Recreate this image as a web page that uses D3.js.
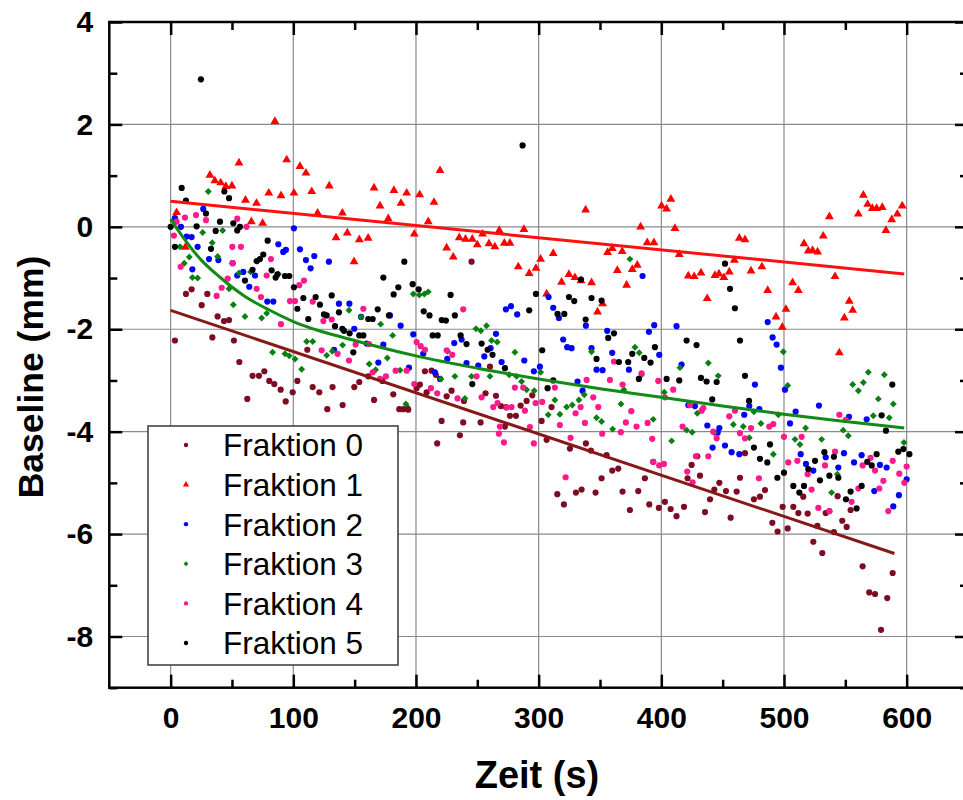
<!DOCTYPE html>
<html>
<head>
<meta charset="utf-8">
<script src="https://cdn.jsdelivr.net/npm/d3@7"></script>
<style>
  body { margin: 0; background: #fff; }
  text { font-family: "Liberation Sans", Arial, Helvetica, sans-serif; }
</style>
</head>
<body>
<svg id="chart" width="963" height="800"></svg>
<script>
// data: [time (s), baseline (mm)]
const frak0 = [[3.5,-2.22],[12.5,-1.31],[17.1,-1.22],[25.3,-1.53],[29.9,-1.31],[34,-2.16],[38.3,-1.75],[43.5,-1.84],[47.6,-1.82],[51.6,-2.22],[56,-2.64],[62.5,-3.36],[66.8,-2.91],[72,-2.91],[76.4,-2.82],[80.4,-3.01],[84.5,-3.07],[89.7,-3.18],[93.8,-3.41],[99.5,-3.23],[103.3,-3.01],[111.4,-2.4],[115.8,-3.13],[121.2,-3.23],[127.7,-3.56],[132,-3.13],[140.2,-3.48],[149.7,-3.13],[153.8,-3.03],[161.1,-2.92],[165.8,-3.38],[172.6,-3.01],[181.5,-3.27],[186.4,-3.56],[189.7,-3.56],[192.9,-3.54],[193.7,-3.57],[200.5,-3.15],[203.2,-3.08],[207.3,-2.82],[208.7,-3.23],[212.7,-2.81],[216.2,-2.89],[217.3,-4.23],[220.9,-3.79],[225,-3.31],[229,-3.2],[235.8,-4.07],[238.5,-3.82],[239.1,-3.4],[245.3,-0.68],[252.7,-3.82],[256.7,-3.25],[260.3,-2.73],[265.2,-3.3],[269.2,-3.5],[272.5,-3.9],[273.3,-3.52],[276.6,-3.69],[281.5,-3.69],[285.3,-3.49],[290.2,-3.4],[294.8,-3.29],[302.4,-3.79],[306.5,-4.16],[310.5,-3.52],[315.2,-5.22],[320.6,-5.42],[325.5,-4.33],[330.4,-5.19],[335,-5.13],[338.5,-4.23],[342.6,-4.37],[346.4,-5.19],[351.3,-4.91],[355.4,-4.46],[360,-4.76],[364.9,-4.72],[368.4,-5.17],[374.4,-5.53],[381.2,-5.16],[386.6,-4.91],[390.2,-5.42],[393.4,-4.59],[398,-5.49],[402.9,-5.37],[407.6,-5.51],[412.4,-5.65],[418.5,-5.47],[421.4,-4.91],[424.7,-4.65],[429.3,-4.48],[431.5,-4.86],[435.6,-5.57],[439.7,-5.32],[443.2,-5.13],[447.3,-5],[452.7,-5.16],[456.5,-5.68],[461.4,-5.17],[464.1,-4.9],[468.2,-4.42],[475.5,-5.32],[480.4,-5.27],[484.5,-5.14],[490.5,-5.78],[494.8,-5.95],[498.9,-5.47],[503,-5.89],[507.6,-5.47],[511.7,-5.59],[515.7,-5.27],[519.3,-5.6],[523.9,-6.15],[527.2,-5.84],[531.2,-6.37],[534,-5.59],[537,-5.55],[540.7,-5.96],[543.7,-5.26],[547.5,-5.74],[551.1,-5.86],[554.3,-5.53],[564.1,-6.63],[569.5,-7.14],[574.2,-7.17],[579.1,-7.87],[584.2,-7.25],[588.6,-6.76]]

const frak1 = [[4.9,0.28],[12,-0.4],[32,1.01],[36,0.9],[40.8,0.86],[45,0.79],[50,0.8],[55.7,1.25],[61,0.52],[65.8,0.1],[70,0.46],[75,0.07],[80,0.66],[85,2.06],[90,0.61],[94.6,1.31],[100.5,0.66],[105.4,1.18],[110.3,1.05],[115,0.69],[119.8,0.27],[129.3,0.8],[134.8,-0.21],[140,0.27],[144,-0.12],[149.5,-0.68],[153.8,-0.25],[161,-0.22],[165.8,0.76],[170.7,0.41],[177.4,0.16],[182,0.71],[187.8,0.46],[192.4,0.66],[198.6,-0.14],[203,0.63],[210,0.1],[214.7,0.48],[219.6,1.1],[225,-0.41],[230.4,-0.59],[235.3,-0.21],[240.4,-0.24],[245.9,-0.24],[250,-0.35],[254.3,-0.14],[259.5,-0.33],[264.3,-0.39],[267.9,-0.07],[272,-0.32],[276.6,-0.32],[283.4,-0.78],[288,-0.05],[292.3,-0.91],[297.8,-0.81],[301.6,-0.63],[306.5,-1.31],[311.9,-0.52],[318.7,-1.08],[324.7,-0.93],[329.6,-0.99],[334.5,-1.05],[338.3,0.33],[343.1,-1.09],[348,-1.66],[352.1,-1.5],[356.2,-0.5],[360,-0.42],[364.1,-0.85],[368.1,-0.48],[371.7,-1.14],[376.3,-0.83],[380.4,-0.75],[383.1,0],[388.5,-0.31],[394,-0.31],[400.2,0.41],[404.3,0.35],[407.8,0.54],[411.1,-0.03],[414.6,-0.54],[422,-0.96],[426.8,-0.97],[432.3,-0.9],[437.4,-1.4],[443.7,-0.95],[447,-0.92],[451,-0.99],[455.4,-0.88],[459.5,-0.65],[463.6,-0.22],[468.2,-0.25],[473.1,-0.86],[482,-0.78],[486.7,-1.24],[493.5,-1.76],[498.6,-1.96],[501.6,-1.61],[507,-1.09],[511.7,-1.24],[516.3,-0.33],[519.8,-0.47],[523.3,-0.46],[527.4,-0.49],[532,-0.18],[537,0.2],[541.6,-0.97],[545.1,-2.46],[549.2,-1.78],[553.2,-1.45],[556,-1.63],[560.6,0.25],[564.7,0.62],[568.2,0.44],[572,0.36],[575.5,0.36],[580.1,0.38],[583.1,-0.07],[587.8,0.14],[592.4,0.25],[596.4,0.41]]

const frak2 = [[3.5,0.17],[8.4,0],[13,-0.19],[17.1,-0.2],[17.7,-0.83],[22,-0.39],[26.6,0.35],[31.3,-0.63],[38.9,-0.65],[50.5,-0.71],[54.3,-0.95],[59.2,-0.88],[64.1,-1.17],[68.8,-0.95],[78.8,-1.46],[83.7,-1.46],[87.8,-0.34],[91.8,-0.49],[94,-0.45],[100.5,-0.03],[105.4,-0.44],[110.3,-0.65],[114.1,-0.81],[117.1,-0.57],[129,-0.68],[133.2,-2.4],[137.2,-1.5],[145.7,-1.5],[149.7,-1.99],[155.2,-1.76],[159.8,-2.28],[169.3,-2.65],[173.4,-2.3],[178.8,-1.73],[187.5,-1.93],[194.3,-2.75],[197.8,-2.1],[205.9,-2.48],[215.4,-2.84],[219.6,-2.97],[225.5,-2.58],[231.2,-2.27],[237.2,-2.2],[241.2,-2.66],[250.8,-2.71],[255.7,-2.53],[260.8,-2.37],[265.2,-2.09],[269.8,-2.64],[273.3,-1.61],[277.4,-1.55],[282.5,-1.71],[288.3,-2.61],[296.1,-2.82],[301,-2.73],[308.1,-1.37],[311.9,-1.58],[316.5,-1.78],[320,-2.2],[323.3,-2.35],[326.8,-2.37],[331.7,-3.02],[335.8,-3.2],[338.5,-1.93],[343.1,-2.37],[347.2,-2.79],[352.1,-2.8],[355.9,-2.03],[360,-2.46],[373.6,-2.79],[384.7,-0.96],[389.9,-2.05],[394.2,-1.92],[398.3,-2.5],[412.4,-1.94],[416.5,-2.69],[422,-3.48],[427.4,-3.5],[437.5,-3.88],[441.8,-4.31],[445.9,-4.02],[447.3,-3.93],[451.9,-4.27],[457.3,-4.4],[463.6,-4.44],[467.6,-3.67],[471.7,-3.5],[476.3,-3.08],[479.9,-3.56],[486.7,-1.86],[490.7,-2.16],[494,-2.3],[497.5,-2.75],[500.8,-3.18],[504.9,-3.84],[509.5,-3.61],[513.6,-4.44],[517.9,-4.63],[523.9,-4.76],[528.5,-3.49],[534,-4.5],[544.3,-4.7],[548.9,-4.42],[553,-3.71],[557.1,-4.6],[563.3,-4.46],[567.4,-3.76],[573.6,-5.16],[578.2,-4.65],[583.7,-4.7],[589.1,-5.46],[593.7,-5.24],[600,-4.93]]

const frak3 = [[7.6,-0.39],[11.1,-0.71],[15.2,-0.59],[17.7,-0.99],[22,-1],[26.1,-0.11],[30.7,0.69],[33.9,-0.31],[38.3,-0.58],[42.4,-0.07],[47.6,-1.21],[51.1,-1.52],[55.7,-0.9],[60.6,-1.75],[65.2,-0.88],[74.2,-1.78],[78.3,-1.69],[83.1,-2.45],[87.8,-0.92],[93.2,-2.48],[96.7,-2.52],[101.4,-2.58],[106.8,-2.78],[110.9,-2.24],[115.8,-2.24],[127.2,-2.51],[131.8,-2.43],[140.2,-2.31],[145.4,-1.63],[155.2,-1.76],[161.9,-2.68],[167.1,-2.79],[171.2,-1.9],[176.6,-2.56],[181,-2.12],[187,-2.8],[191.8,-3.46],[197.8,-1.31],[202.7,-1.33],[206.8,-1.31],[210,-1.27],[220.3,-2.97],[225.8,-2.43],[231.7,-2.92],[239.9,-3.35],[245.3,-2.92],[248.9,-1.99],[252.9,-2.03],[257.5,-1.93],[260.3,-2.92],[261.6,-2.22],[266.2,-2.25],[276,-2.89],[280.6,-2.45],[282,-2.92],[286.1,-3.02],[290.2,-3.18],[296.4,-3.2],[301.6,-2.84],[307.8,-3.67],[313.2,-3.38],[317.3,-3.66],[322.8,-3.52],[327.4,-3.48],[332.8,-3.38],[337.2,-3.28],[343.1,-2.44],[347.2,-3.73],[351.3,-3.8],[360.3,-3.95],[367.1,-3.46],[369.5,-3.18],[374.4,-0.63],[378.5,-2.35],[382,-2.46],[383.9,-2.89],[393.4,-3.76],[402.4,-3.23],[408.4,-4.18],[415.2,-2.75],[420.6,-3.97],[425.2,-4.01],[429.3,-3.64],[438.3,-2.66],[443.2,-4.02],[446.4,-2.91],[458.7,-3.86],[466.8,-3.9],[471.7,-4.12],[475.5,-3.61],[481.2,-3.84],[491.3,-4.44],[495.4,-3.67],[499.4,-2.44],[503,-3.1],[509,-4.15],[513,-4.25],[517.6,-3.93],[530.7,-4.15],[538.8,-5.19],[543.5,-4.83],[548.3,-3.97],[552.4,-4.08],[556,-3.08],[560.6,-3.2],[564.7,-3.04],[568.7,-2.84],[572.8,-3.69],[576.9,-3.36],[581.8,-2.89],[585.8,-3.73],[589.1,-3.46],[597.8,-4.21]]

const frak4 = [[2.7,-0.17],[4.9,0.1],[8.2,-0.78],[11.7,0.18],[20.7,0.23],[28.8,0.13],[37.5,-1.35],[41.6,-1.19],[46.5,-1.01],[50.3,-0.39],[50.5,-0.71],[54.3,0.16],[57.3,-0.39],[61.9,0],[70.1,-1.21],[73.6,-1.37],[78.3,-0.95],[81.8,-0.63],[89.9,-1.9],[97.3,-1.45],[101.4,-1.45],[104.9,-1.14],[108.7,-1.05],[115.8,-1.46],[123.1,-2.41],[124.5,-1.84],[131.3,-1.81],[136.1,-2.48],[145.4,-2.61],[150.8,-2.3],[157.1,-1.6],[161.7,-2.29],[164.7,-2.84],[170.7,-2.97],[175.5,-2.92],[183.4,-2.81],[192.4,-2.81],[198.6,-3.07],[200.5,-2.25],[203.8,-2.33],[207.3,-2.4],[212.2,-3.15],[217.3,-3.25],[225,-2.41],[229.6,-2.5],[233.9,-3.35],[238.5,-1.61],[249.4,-2.92],[253.5,-3.33],[263,-3.52],[266.5,-3.44],[267.6,-4.04],[268.4,-3.9],[271.7,-4.21],[273.9,-3.53],[277.9,-3.52],[280.6,-3.14],[287.4,-3.14],[288.8,-3.59],[292.9,-3.91],[296.1,-4.23],[297.5,-3.44],[302.9,-3.42],[313.2,-3.14],[317.3,-3.87],[322,-4.89],[326,-4.12],[330.1,-3.64],[334.2,-3.52],[337.7,-3.83],[339.1,-2.99],[344.5,-3.33],[348.6,-3.52],[351.8,-4.04],[358.1,-2.99],[361.4,-2.63],[367,-4.01],[368.4,-3.08],[371.1,-3.82],[375.5,-3.6],[379.8,-3.9],[383.9,-2.86],[388.8,-3.83],[392.6,-4.14],[393.4,-4.59],[397.5,-3.01],[398.3,-4.66],[402.1,-4.63],[402.9,-3.33],[409.7,-3.18],[417.3,-3.9],[421.1,-4.78],[423.3,-3.48],[425.5,-4.99],[428.2,-4.48],[432.9,-3.59],[434.2,-3.54],[438.3,-4.48],[442.3,-4],[445.1,-4.13],[455.4,-3.7],[460,-3.59],[464.1,-4.03],[468.2,-4.13],[473.1,-3.93],[479.6,-4.91],[488,-3.9],[491.3,-3.85],[500,-4.1],[503.5,-4.6],[510.9,-4.57],[514.4,-4.1],[519.3,-4.83],[522.5,-5.13],[528,-5.49],[533.4,-4.66],[537,-5.55],[541.6,-4.39],[545.1,-3.67],[550.3,-3.77],[555.1,-5.37],[560.6,-5.11],[564.1,-4.66],[570.6,-4.51],[574.2,-4.76],[577.7,-5.11],[581,-4.96],[585,-5.55],[588.6,-4.57],[594,-4.82],[598.1,-5],[600,-4.68]]

const frak5 = [[0,0],[3.5,-0.39],[9,0.76],[12.5,0.51],[21.2,0.01],[24.7,2.88],[28.8,0.26],[32.9,-0.43],[36.7,-0.08],[40.2,0.1],[43.8,0.69],[47.6,0.56],[51.1,0.07],[54.3,-0.07],[56.5,0],[60.6,-1.05],[66.8,-0.84],[70.1,-0.67],[72.8,-0.63],[75.5,-0.54],[79.1,-0.27],[82.3,-0.85],[85.6,-0.99],[87,-0.93],[93.2,-0.96],[96.7,-0.96],[100.5,-1.18],[103.3,-1.6],[108.2,-1.39],[112.2,-1.8],[118.2,-1.37],[121.7,-1.52],[125,-1.71],[127.2,-1.73],[131.3,-1.34],[134,-1.94],[137.2,-1.67],[140,-1.99],[141.3,-2.03],[145.9,-2.08],[148.9,-2.45],[153.8,-2.12],[157.1,-2.12],[161.1,-1.8],[164.7,-1.8],[168.8,-1.61],[173.4,-0.99],[178,-1.73],[181.8,-1.32],[185.6,-1.18],[190.5,-0.68],[197.3,-1.12],[202.2,-1.22],[206.3,-1.65],[211,-1.73],[213.6,-2.12],[217.7,-2.12],[221,-1.82],[224.4,-1.83],[228.2,-1.33],[231.7,-1.73],[236.4,-2.12],[241.2,-2.29],[245.9,-3.07],[253.5,-2.28],[258.4,-2.4],[262.4,-2.5],[272.5,-2.76],[286.9,1.59],[292.3,-1.63],[297.8,-1.31],[302.9,-2.41],[307.3,-3.15],[311.9,-3],[315.4,-1.7],[320.9,-1.7],[324.7,-1.37],[329,-1.45],[334.5,-1.03],[338.3,-1.81],[343.1,-1.39],[347.2,-2.58],[351.3,-1.44],[356.7,-2.17],[361.4,-2.08],[365.4,-2.64],[373,-2.64],[376.3,-2.48],[381.7,-2.97],[386.1,-2.56],[391.2,-2.65],[394.8,-2.35],[404.3,-2.97],[414.6,-3],[420.6,-2.22],[428.7,-2.31],[432.3,-2.95],[436.9,-3.02],[441.5,-3.37],[445.1,-3.03],[451.9,-0.72],[456,-1.21],[460,-1.59],[464.1,-2.22],[468.2,-2.91],[471.5,-3.4],[475.5,-4.31],[480.4,-4.53],[486.4,-4.6],[488.6,-4.25],[494.6,-4.9],[500,-4.8],[507.6,-5.06],[512.5,-5.19],[516.3,-5.06],[519.8,-4.73],[525.3,-4.57],[529.3,-4.95],[532.9,-4.4],[537,-4.86],[540.7,-4.49],[544.3,-4.9],[550.5,-5.32],[554.3,-5.17],[559.2,-5.5],[563.3,-5.06],[567.9,-4.59],[571.5,-4.66],[575.5,-4.44],[579.6,-3.68],[583.1,-3.98],[588.3,-3.08],[593.2,-4.39],[597.3,-4.34],[602.2,-4.44]]

// fit lines
const fit0 = [[0,-1.63],[590,-6.38]]
const fit1 = [[0,0.5],[598,-0.92]]
const fit3 = [[0,0.15],[10,-0.2],[25,-0.65],[40,-0.98],[60,-1.35],[80,-1.62],[100,-1.85],[150,-2.22],[200,-2.52],[250,-2.76],[300,-2.97],[350,-3.16],[400,-3.33],[450,-3.5],[500,-3.66],[550,-3.8],[598,-3.93]]

const seriesNames = ['Fraktion 0', 'Fraktion 1', 'Fraktion 2', 'Fraktion 3', 'Fraktion 4', 'Fraktion 5']
const seriesColors = ['#7d0c22', '#ff0000', '#0000ff', '#0a8010', '#ff1a8c', '#000000']
const seriesShapes = ['circle', 'triangle', 'circle', 'diamond', 'circle', 'circle']
const seriesData = [frak0, frak1, frak2, frak3, frak4, frak5]

const xMajor = [0, 100, 200, 300, 400, 500, 600]
const xMinor = [50, 150, 250, 350, 450, 550, 650]
const yMajor = [-8, -6, -4, -2, 0, 2, 4]
const yMinor = [-9, -7, -5, -3, -1, 1, 3]

const svg = d3.select('#chart')

const x = d3.scaleLinear().domain([-50, 650]).range([109.3, 968])
const y = d3.scaleLinear().domain([-9, 4]).range([687.7, 22])

// grid
const grid = svg.append('g')
grid.selectAll('.gx').data(xMajor).join('line')
    .attr('x1', d => x(d)).attr('x2', d => x(d))
    .attr('y1', y(4)).attr('y2', y(-9))
    .attr('stroke', '#8a8a8a').attr('stroke-width', 1.2)
grid.selectAll('.gy').data(yMajor.filter(d => d < 4)).join('line')
    .attr('x1', x(-50)).attr('x2', x(650))
    .attr('y1', d => y(d)).attr('y2', d => y(d))
    .attr('stroke', '#8a8a8a').attr('stroke-width', 1.2)

// markers
function marker(sel, shape, color, scale) {
    if (shape === 'circle') {
        sel.append('circle').attr('r', 3.1 * scale).attr('fill', color)
    } else if (shape === 'triangle') {
        sel.append('path').attr('d', d3.symbol().type(d3.symbolTriangle).size(34 * scale * scale)()).attr('fill', color)
    } else {
        sel.append('path').attr('d', d3.symbol().type(d3.symbolSquare).size(24 * scale * scale)())
            .attr('transform', 'rotate(45)').attr('fill', color)
    }
}

seriesData.forEach((data, i) => {
    const g = svg.append('g')
    g.selectAll('g').data(data).join('g')
        .attr('transform', d => `translate(${x(d[0])},${y(d[1])})`)
        .each(function() { marker(d3.select(this), seriesShapes[i], seriesColors[i], 1) })
})

// fitted lines
const line = d3.line().x(d => x(d[0])).y(d => y(d[1]))
svg.append('path').datum(fit1).attr('d', line).attr('fill', 'none').attr('stroke', '#ff1010').attr('stroke-width', 3)
svg.append('path').datum(fit0).attr('d', line).attr('fill', 'none').attr('stroke', '#861818').attr('stroke-width', 3)
svg.append('path').datum(fit3).attr('d', line.curve(d3.curveMonotoneX)).attr('fill', 'none').attr('stroke', '#118a16').attr('stroke-width', 3)

// axes, ticks pointing inward
const plain = d => String(d)
const tickStyle = g => {
    g.select('.domain').remove()
    g.selectAll('line').attr('stroke', '#000').attr('stroke-width', 2.5)
    g.selectAll('text').attr('font-size', 30).attr('font-weight', 'bold').attr('fill', '#000')
        .style('font-family', '"Liberation Sans", Arial, sans-serif')
}

svg.append('g').attr('transform', `translate(0,${y(-9)})`)
    .call(d3.axisBottom(x).tickValues(xMajor).tickSize(-13).tickPadding(19).tickFormat(plain))
    .call(tickStyle)
svg.append('g').attr('transform', `translate(0,${y(-9)})`)
    .call(d3.axisBottom(x).tickValues(xMinor).tickSize(-8).tickFormat(''))
    .call(tickStyle)
svg.append('g').attr('transform', `translate(0,${y(4)})`)
    .call(d3.axisTop(x).tickValues(xMajor).tickSize(-13).tickFormat(''))
    .call(tickStyle)
svg.append('g').attr('transform', `translate(0,${y(4)})`)
    .call(d3.axisTop(x).tickValues(xMinor).tickSize(-8).tickFormat(''))
    .call(tickStyle)
svg.append('g').attr('transform', `translate(${x(-50)},0)`)
    .call(d3.axisLeft(y).tickValues(yMajor).tickSize(-13).tickPadding(16).tickFormat(plain))
    .call(tickStyle)
svg.append('g').attr('transform', `translate(${x(-50)},0)`)
    .call(d3.axisLeft(y).tickValues(yMinor).tickSize(-8).tickFormat(''))
    .call(tickStyle)
svg.append('g').attr('transform', `translate(${x(650)},0)`)
    .call(d3.axisRight(y).tickValues(yMajor).tickSize(-13).tickFormat(''))
    .call(tickStyle)
svg.append('g').attr('transform', `translate(${x(650)},0)`)
    .call(d3.axisRight(y).tickValues(yMinor).tickSize(-8).tickFormat(''))
    .call(tickStyle)

// frame
svg.append('rect')
    .attr('x', x(-50)).attr('y', y(4))
    .attr('width', x(650) - x(-50)).attr('height', y(-9) - y(4))
    .attr('fill', 'none').attr('stroke', '#000').attr('stroke-width', 2.5)

// axis titles
svg.append('text')
    .attr('x', 537).attr('y', 788)
    .attr('text-anchor', 'middle')
    .attr('font-size', 38).attr('font-weight', 'bold')
    .text('Zeit (s)')
svg.append('text')
    .attr('transform', 'translate(43,377) rotate(-90)')
    .attr('text-anchor', 'middle')
    .attr('font-size', 35.5).attr('font-weight', 'bold')
    .text('Baseline (mm)')

// legend
const legend = svg.append('g')
legend.append('rect')
    .attr('x', 148).attr('y', 426).attr('width', 250).attr('height', 239)
    .attr('fill', '#fff').attr('stroke', '#444').attr('stroke-width', 1.6)
const legendY = d3.scalePoint().domain(seriesNames).range([445, 643])
seriesNames.forEach((name, i) => {
    const item = legend.append('g').attr('transform', `translate(186,${legendY(name)})`)
    marker(item, seriesShapes[i], seriesColors[i], 0.7)
    item.append('text')
        .attr('x', 37).attr('dy', '0.36em')
        .attr('font-size', 31.5)
        .text(name)
})
</script>
</body>
</html>
